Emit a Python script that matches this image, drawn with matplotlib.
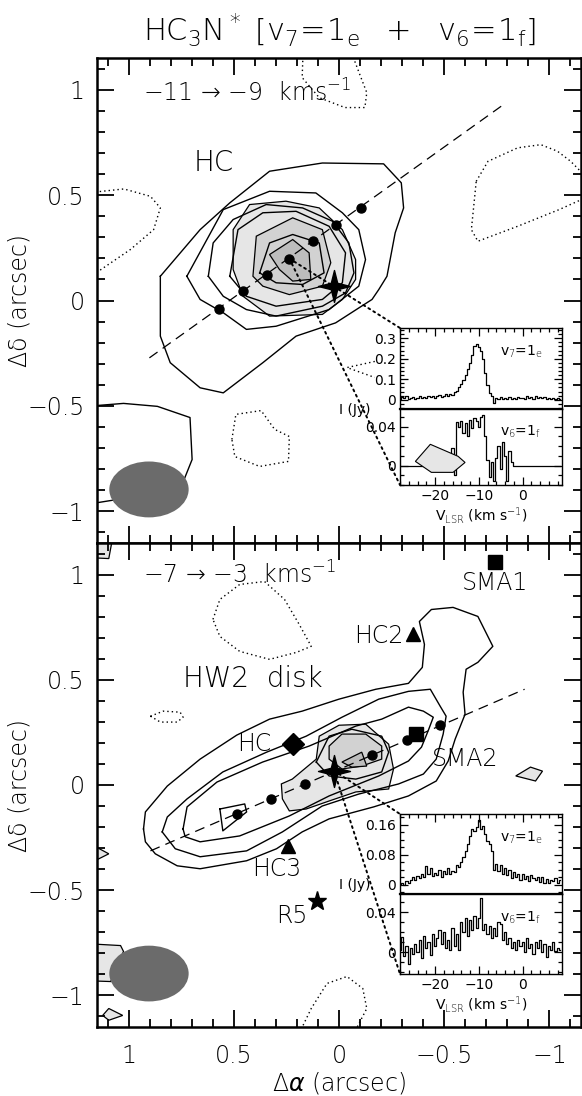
import numpy as np
import matplotlib
matplotlib.use('Agg')
import matplotlib.pyplot as plt
from matplotlib.patches import Ellipse, Polygon, ConnectionPatch
from matplotlib.path import Path
from matplotlib.ticker import MultipleLocator, FixedLocator

#
# map data (arcsec offsets)
#
# top panel  -11 -> -9 km/s
top_c1 = [(0.849, 0.115), (0.660, 0.336), (0.519, 0.463), (0.330, 0.613), (0.079, 0.652),
          (-0.212, 0.648), (-0.296, 0.558), (-0.307, 0.439), (-0.267, 0.321), (-0.228, 0.115),
          (-0.189, 0.052), (-0.157, 0.005), (0.016, -0.106), (0.204, -0.169), (0.362, -0.295),
          (0.550, -0.438), (0.660, -0.414), (0.802, -0.295), (0.849, -0.169)]
top_c2 = [(0.723, 0.115), (0.550, 0.431), (0.330, 0.518), (0.110, 0.510), (-0.016, 0.416),
          (-0.094, 0.336), (-0.126, 0.194), (-0.094, 0.068), (0.047, -0.043), (0.299, -0.122),
          (0.440, -0.137), (0.550, -0.058), (0.660, 0.005)]
top_c3 = [(0.621, 0.115), (0.598, 0.273), (0.503, 0.384), (0.346, 0.455), (0.173, 0.439),
          (0.031, 0.376), (-0.047, 0.273), (-0.071, 0.131), (-0.031, 0.036), (0.079, -0.027),
          (0.299, -0.074), (0.440, -0.043), (0.550, 0.020)]
top_c4 = [(0.519, 0.115), (0.480, 0.336), (0.362, 0.416), (0.204, 0.423), (0.047, 0.352),
          (-0.031, 0.226), (-0.016, 0.084), (0.079, 0.005), (0.299, -0.027), (0.440, 0.020)]
top_c5 = [(0.377, 0.131), (0.330, 0.273), (0.220, 0.313), (0.094, 0.273), (0.071, 0.131),
          (0.173, 0.076), (0.299, 0.084)]
top_f1 = [(0.503, 0.336), (0.425, 0.455), (0.252, 0.471), (0.094, 0.439), (-0.016, 0.336),
          (-0.079, 0.194), (-0.079, 0.100), (-0.016, 0.005), (0.079, -0.066), (0.330, -0.074),
          (0.456, 0.020), (0.503, 0.147)]
top_f2 = [(0.409, 0.115), (0.393, 0.305), (0.220, 0.392), (0.079, 0.336), (0.039, 0.179),
          (0.079, 0.068), (0.236, 0.028), (0.362, 0.068)]
top_f3 = [(0.330, 0.218), (0.220, 0.289), (0.142, 0.226), (0.134, 0.100), (0.220, 0.092),
          (0.283, 0.147)]
top_low = [(1.20, -0.502), (1.024, -0.488), (0.863, -0.502), (0.708, -0.555), (0.698, -0.754),
           (0.755, -0.896), (1.20, -0.967)]
top_neg = [
    [(1.20, 0.510), (1.022, 0.529), (0.896, 0.494), (0.849, 0.439), (0.881, 0.336),
     (0.991, 0.242), (1.20, 0.100)],
    [(-0.652, 0.565), (-0.708, 0.660), (-0.849, 0.724), (-0.959, 0.739), (-1.038, 0.708),
     (-1.101, 0.660), (-1.20, 0.560), (-1.20, 0.500), (-1.046, 0.431), (-0.849, 0.352),
     (-0.660, 0.281), (-0.629, 0.336), (-0.645, 0.494), (-0.652, 0.565)],
    [(0.170, 1.20), (0.175, 1.057), (0.094, 0.962), (-0.028, 0.915), (-0.123, 0.915),
     (-0.132, 0.986), (-0.099, 1.071), (-0.050, 1.20)],
    [(0.509, -0.659), (0.490, -0.540), (0.370, -0.522), (0.306, -0.611), (0.236, -0.645),
     (0.240, -0.763), (0.377, -0.787), (0.495, -0.740), (0.509, -0.659)],
    [(-0.170, -0.289), (-0.038, -0.318), (-0.170, -0.365)],
]
top_dots_x = [0.571, 0.458, 0.344, 0.236, 0.123, 0.014, -0.104]
top_dots_y = [-0.038, 0.043, 0.123, 0.199, 0.280, 0.360, 0.441]
top_axis_x = [0.901, -0.79]
top_axis_y = [-0.272, 0.935]
inset_patch_top = [(-0.363, -0.763), (-0.434, -0.682), (-0.566, -0.739), (-0.599, -0.768),
                   (-0.542, -0.815), (-0.439, -0.815)]

# bottom panel  -7 -> -3 km/s
bot_c1 = [(0.929, -0.209), (0.920, -0.128), (0.816, -0.005), (0.660, 0.123), (0.486, 0.237),
          (0.330, 0.313), (0.175, 0.351), (0.000, 0.408), (-0.175, 0.455), (-0.330, 0.483),
          (-0.396, 0.559), (-0.406, 0.668), (-0.382, 0.777), (-0.439, 0.834), (-0.542, 0.844),
          (-0.660, 0.801), (-0.731, 0.659), (-0.660, 0.583), (-0.604, 0.550), (-0.590, 0.441),
          (-0.599, 0.336), (-0.552, 0.218), (-0.519, 0.114), (-0.462, 0.019), (-0.330, -0.052),
          (-0.165, -0.104), (0.047, -0.161), (0.175, -0.223), (0.297, -0.303), (0.439, -0.360),
          (0.660, -0.398), (0.769, -0.384), (0.873, -0.327), (0.920, -0.270)]
bot_c2 = [(0.840, -0.223), (0.816, -0.152), (0.722, -0.066), (0.552, 0.062), (0.344, 0.156),
          (0.156, 0.232), (-0.014, 0.322), (-0.189, 0.408), (-0.330, 0.445), (-0.434, 0.455),
          (-0.481, 0.374), (-0.509, 0.327), (-0.495, 0.242), (-0.462, 0.123), (-0.401, 0.052),
          (-0.283, 0.005), (-0.094, -0.043), (0.080, -0.100), (0.269, -0.223), (0.439, -0.313),
          (0.660, -0.341), (0.778, -0.303)]
bot_c3 = [(0.741, -0.209), (0.722, -0.104), (0.580, 0.014), (0.363, 0.109), (0.142, 0.185),
          (-0.080, 0.280), (-0.203, 0.313), (-0.330, 0.370), (-0.401, 0.351), (-0.448, 0.322),
          (-0.425, 0.261), (-0.392, 0.180), (-0.330, 0.114), (-0.189, 0.043), (0.047, -0.052),
          (0.236, -0.147), (0.472, -0.242), (0.660, -0.270), (0.731, -0.246)]
bot_c4 = [(0.108, 0.109), (0.047, 0.232), (-0.061, 0.265), (-0.203, 0.232), (-0.236, 0.156),
          (-0.203, 0.062), (-0.080, 0.028), (0.047, 0.043)]
bot_c5 = [(0.566, -0.114), (0.448, -0.090), (0.439, -0.128), (0.552, -0.218)]
bot_f1 = [(0.274, 0.005), (0.222, 0.028), (0.108, 0.123), (0.094, 0.232), (0.000, 0.284),
          (-0.127, 0.289), (-0.236, 0.194), (-0.259, 0.076), (-0.236, -0.019), (-0.080, -0.033),
          (0.047, -0.076), (0.156, -0.114), (0.236, -0.123), (0.269, -0.066)]
bot_f2 = [(0.047, 0.185), (-0.014, 0.242), (-0.127, 0.242), (-0.203, 0.185), (-0.203, 0.123),
          (-0.108, 0.090), (-0.014, 0.076), (0.047, 0.123)]
bot_f3 = [(-0.014, 0.109), (-0.108, 0.156), (-0.132, 0.090), (-0.061, 0.085)]
bot_f_small = [
    [(-0.840, 0.043), (-0.910, 0.085), (-0.967, 0.066), (-0.934, 0.019)],
    [(1.20, -0.270), (1.094, -0.327), (1.20, -0.380)],
    [(1.20, -0.754), (1.038, -0.763), (1.024, -0.791), (1.085, -0.934), (1.20, -0.930)],
    [(1.123, -1.095), (1.094, -1.062), (1.028, -1.095), (1.094, -1.118)],
    [(1.20, 1.20), (1.071, 1.20), (1.094, 1.076), (1.20, 1.081)],
]
bot_neg = [
    [(0.599, 0.787), (0.566, 0.882), (0.472, 0.953), (0.354, 0.967), (0.259, 0.882),
     (0.189, 0.763), (0.132, 0.659), (0.203, 0.630), (0.330, 0.597), (0.472, 0.635),
     (0.566, 0.706), (0.599, 0.787)],
    [(0.896, 0.327), (0.835, 0.351), (0.755, 0.346), (0.741, 0.322), (0.769, 0.299),
     (0.849, 0.299), (0.896, 0.327)],
    [(0.189, -1.180), (0.132, -1.062), (0.057, -0.943), (-0.038, -0.910), (-0.113, -0.967),
     (-0.132, -1.062), (-0.071, -1.180)],
]
bot_dots_x = [0.487, 0.325, 0.162, -0.157, -0.322, -0.480]
bot_dots_y = [-0.137, -0.066, 0.005, 0.142, 0.215, 0.284]
bot_axis_x = [0.896, -0.882]
bot_axis_y = [-0.313, 0.455]

star_pos = (0.024, 0.068)
beam = (0.903, -0.896, 0.377, 0.265)   # x, y, major, minor

# sources in the bottom panel
sources = {
    'HC':   (0.217, 0.194, 'D'),
    'SMA2': (-0.368, 0.242, 's'),
    'HC2':  (-0.354, 0.716, '^'),
    'SMA1': (-0.741, 1.062, 's'),
    'HC3':  (0.241, -0.289, '^'),
    'R5':   (0.104, -0.550, '*'),
}

#
# spectra at the star position (Jy), channels of 0.5 km/s
#
vel = np.arange(-28.0, 8.75, 0.5)
top_v7 = [0.005, 0.012, 0.008, 0.016, 0.004, 0.010, 0.014, 0.006,
          0.011, 0.018, 0.007, 0.013, 0.009, 0.017, 0.012, 0.020,
          0.010, 0.016, 0.022, 0.014, 0.019, 0.026, 0.018, 0.030,
          0.024, 0.036, 0.045, 0.060, 0.075, 0.095, 0.120, 0.150,
          0.180, 0.220, 0.262, 0.270, 0.255, 0.240, 0.200, 0.130,
          0.070, 0.035, 0.018, -0.015, 0.010, 0.004, 0.012, 0.006,
          0.008, 0.002, 0.012, 0.005, 0.010, 0.003, 0.014, 0.007,
          0.011, 0.004, 0.016, 0.009, 0.013, 0.006, 0.018, 0.010,
          0.015, 0.008, 0.012, 0.004, 0.010, 0.002, 0.009, 0.005,
          0.011, 0.006]
top_v6 = [0, 0, 0, 0, 0, 0, 0, 0,
          0, 0, 0, 0, 0, 0, 0, 0,
          0, 0, 0, 0, 0, 0, 0.012, -0.006,
          0.018, -0.010, 0.045, 0.040, 0.046, 0.033, 0.044, 0.030,
          0.047, 0.038, 0.049, 0.046, 0.040, 0.050, 0.052, 0.030,
          0.006, -0.012, 0.004, -0.016, 0.008, 0.020, -0.004, 0.024,
          0.010, -0.016, 0.015, 0.004, 0, 0, 0, 0,
          0, 0, 0, 0, 0, 0, 0, 0,
          0, 0, 0, 0, 0, 0, 0, 0,
          0, 0]
bot_v7 = [0.002, 0.006, 0.000, 0.010, 0.004, 0.012, 0.020, 0.014,
          0.024, 0.018, 0.030, 0.022, 0.050, 0.028, 0.046, 0.024,
          0.032, 0.026, 0.040, 0.022, 0.036, 0.028, 0.044, 0.030,
          0.038, 0.034, 0.052, 0.048, 0.062, 0.075, 0.090, 0.110,
          0.130, 0.150, 0.145, 0.155, 0.172, 0.150, 0.158, 0.135,
          0.118, 0.108, 0.090, 0.040, 0.055, 0.038, 0.052, 0.030,
          0.045, 0.026, 0.040, 0.018, 0.034, 0.022, 0.028, 0.014,
          0.030, 0.016, 0.024, 0.010, 0.026, 0.018, 0.012, 0.022,
          0.008, 0.020, 0.006, 0.016, 0.004, 0.014, 0.010, 0.018,
          0.006, 0.012]
bot_v6 = [0.002, 0.015, -0.004, 0.006, -0.012, 0.004, -0.002, 0.008,
          0.000, 0.012, -0.006, 0.016, 0.004, 0.010, -0.003, 0.018,
          0.006, 0.014, 0.022, 0.008, 0.020, 0.004, 0.012, 0.002,
          0.024, 0.006, 0.018, 0.002, 0.030, 0.020, 0.034, 0.016,
          0.032, 0.022, 0.036, 0.024, 0.034, 0.054, 0.022, 0.028,
          0.018, 0.026, 0.014, 0.024, 0.016, 0.030, 0.028, 0.012,
          0.020, 0.008, 0.014, 0.004, 0.010, 0.002, 0.012, 0.006,
          0.010, 0.000, 0.014, 0.004, 0.008, -0.002, 0.010, 0.004,
          0.012, 0.000, 0.008, -0.005, 0.006, 0.002, 0.010, 0.001,
          0.004, 0.002]

LIGHT, MID, DARK = '#e6e6e6', '#d2d2d2', '#bdbdbd'
plt.rcParams['font.family'] = ['DejaVu Sans']
plt.rcParams['font.weight'] = 'light'
plt.rcParams['axes.labelweight'] = 'light'
plt.rcParams['mathtext.fontset'] = 'custom'
plt.rcParams['mathtext.rm'] = 'DejaVu Sans:light'
plt.rcParams['mathtext.it'] = 'DejaVu Sans:italic:light'
plt.rcParams['mathtext.sf'] = 'DejaVu Sans:light'

W, H = 582, 1096
fig = plt.figure(figsize=(W / 100, H / 100), dpi=100)


def fbox(x0, y0, x1, y1):
    # pixel box -> figure fraction
    return [x0 / W, 1 - y1 / H, (x1 - x0) / W, (y1 - y0) / H]


def closed(pts):
    xs = [p[0] for p in pts] + [pts[0][0]]
    ys = [p[1] for p in pts] + [pts[0][1]]
    return xs, ys


def line(ax, pts, close=True, **kw):
    if close:
        xs, ys = closed(pts)
    else:
        xs, ys = [p[0] for p in pts], [p[1] for p in pts]
    ax.plot(xs, ys, color='k', **kw)


def filled(ax, pts, color, z=1):
    ax.add_patch(Polygon(pts, closed=True, facecolor=color, edgecolor='k', lw=0.9, zorder=z))


def minus(v, p):
    return ('%g' % v).replace('-', '\u2212')


def setup_map(ax, xlabels):
    ax.set_xlim(1.15, -1.15)
    ax.set_ylim(-1.15, 1.15)
    ax.xaxis.set_major_locator(MultipleLocator(0.5))
    ax.xaxis.set_minor_locator(MultipleLocator(0.1))
    ax.yaxis.set_major_locator(MultipleLocator(0.5))
    ax.yaxis.set_minor_locator(MultipleLocator(0.1))
    ax.tick_params(which='both', direction='in', top=True, right=True, width=1.3)
    ax.tick_params(which='major', length=12, labelsize=17)
    ax.tick_params(which='minor', length=6)
    ax.tick_params(axis='y', pad=9)
    ax.tick_params(axis='x', pad=12)
    if not xlabels:
        ax.tick_params(axis='x', labelbottom=False)
    for s in ax.spines.values():
        s.set_linewidth(1.8)
    ax.set_ylabel('\u0394\u03b4 (arcsec)', fontsize=17)
    ax.yaxis.set_label_coords(-0.135, 0.5)
    ax.yaxis.set_major_formatter(plt.FuncFormatter(minus))
    ax.xaxis.set_major_formatter(plt.FuncFormatter(minus))


star_path = Path([(0, 1), (0.2, 0.2), (1, 0), (0.2, -0.2), (0, -1), (-0.2, -0.2),
                  (-1, 0), (-0.2, 0.2), (0, 1)], closed=True)

ax1 = fig.add_axes(fbox(97, 58, 581, 543))
ax2 = fig.add_axes(fbox(97, 543, 581, 1027))
setup_map(ax1, False)
setup_map(ax2, True)
ax2.set_xlabel(r'$\Delta\alpha$ (arcsec)', fontsize=17, labelpad=2)

dot_style = dict(linestyle=(0, (1, 2.2)), lw=1.0)

# ---- top panel
filled(ax1, top_f1, LIGHT)
filled(ax1, top_f2, MID)
filled(ax1, top_f3, DARK)
for c in (top_c1, top_c2, top_c3, top_c4, top_c5):
    line(ax1, c, lw=1.0, zorder=2)
line(ax1, top_low, close=False, lw=1.0, zorder=2)
for c in top_neg:
    line(ax1, c, close=False, zorder=2, **dot_style)
ax1.plot(top_axis_x, top_axis_y, color='k', lw=0.9, dashes=(8, 5), zorder=3)
ax1.plot(top_dots_x, top_dots_y, 'o', color='k', ms=6.5, zorder=4)
ax1.plot(*star_pos, marker=star_path, color='k', ms=23, zorder=5)
ax1.add_patch(Ellipse(beam[:2], beam[2], beam[3], facecolor='#6b6b6b', edgecolor='none', zorder=6))
ax1.text(0.93, 0.985, '\u221211 \u2192 \u22129  kms$^{-1}$', fontsize=17, va='center', ha='left')
ax1.text(0.693, 0.654, 'HC', fontsize=20, va='center', ha='left')

# ---- bottom panel
filled(ax2, bot_f1, LIGHT)
filled(ax2, bot_f2, MID)
filled(ax2, bot_f3, DARK)
for c in bot_f_small:
    filled(ax2, c, LIGHT)
for c in (bot_c1, bot_c2, bot_c3, bot_c4, bot_c5):
    line(ax2, c, lw=1.0, zorder=2)
for c in bot_neg:
    line(ax2, c, close=False, zorder=2, **dot_style)
ax2.plot(bot_axis_x, bot_axis_y, color='k', lw=0.9, dashes=(8, 5), zorder=3)
ax2.plot(bot_dots_x, bot_dots_y, 'o', color='k', ms=6.5, zorder=4)
ax2.plot(*star_pos, marker=star_path, color='k', ms=23, zorder=5)
ax2.add_patch(Ellipse(beam[:2], beam[2], beam[3], facecolor='#6b6b6b', edgecolor='none', zorder=6))
msize = {'D': 11, 's': 10, '^': 10, '*': 14}
for name, (sx, sy, mk) in sources.items():
    ax2.plot(sx, sy, marker=mk, color='k', ms=msize[mk], zorder=5, linestyle='none')
ax2.text(0.93, 1.0, '\u22127 \u2192 \u22123  kms$^{-1}$', fontsize=17, va='center', ha='left')
ax2.text(0.741, 0.502, 'HW2  disk', fontsize=20, va='center', ha='left')
ax2.text(0.321, 0.194, 'HC', fontsize=17, va='center', ha='right')
ax2.text(-0.439, 0.123, 'SMA2', fontsize=17, va='center', ha='left')
ax2.text(-0.307, 0.706, 'HC2', fontsize=17, va='center', ha='right')
ax2.text(-0.741, 0.962, 'SMA1', fontsize=17, va='center', ha='center')
ax2.text(0.297, -0.398, 'HC3', fontsize=17, va='center', ha='center')
ax2.text(0.222, -0.621, 'R5', fontsize=17, va='center', ha='center')

fig.text(0.5 * (97 + 581) / W, 1 - 30 / H,
         r'HC$_3$N$^*$ $\left[\mathrm{v}_7\!=\!1_\mathrm{e}\ \ +\ \ \mathrm{v}_6\!=\!1_\mathrm{f}\right]$',
         fontsize=22, ha='center', va='center')


# ---- spectra insets
def spec_axes(box, s, ylim, ymaj, ymin, tag, lower):
    a = fig.add_axes(fbox(*box))
    a.step(vel, s, where='mid', color='k', lw=0.9)
    a.set_xlim(-28, 9)
    a.set_ylim(*ylim)
    a.xaxis.set_major_locator(FixedLocator([-20, -10, 0]))
    a.xaxis.set_minor_locator(MultipleLocator(2))
    a.yaxis.set_major_locator(FixedLocator(ymaj))
    a.yaxis.set_minor_locator(MultipleLocator(ymin))
    a.tick_params(which='both', direction='in', left=True, right=True,
                  top=not lower, bottom=lower, labelsize=10, width=0.9, pad=3)
    a.tick_params(which='major', length=6)
    a.tick_params(which='minor', length=3)
    a.yaxis.set_major_formatter(plt.FuncFormatter(lambda x, p: '%g' % x))
    a.xaxis.set_major_formatter(plt.FuncFormatter(minus))
    for lab in a.get_xticklabels() + a.get_yticklabels():
        lab.set_fontweight('normal')
    if lower:
        a.set_xlabel(r'V$_\mathrm{LSR}$ (km s$^{-1}$)', fontsize=10, labelpad=1, fontweight='normal')
    else:
        a.tick_params(axis='x', labelbottom=False)
    for s_ in a.spines.values():
        s_.set_linewidth(1.0)
    a.text(0.62, 0.7, tag, transform=a.transAxes, fontsize=10, va='center', fontweight='normal')
    return a


i1a = spec_axes((400, 328, 562, 409), top_v7, (-0.045, 0.35), [0, 0.1, 0.2, 0.3], 0.02,
                r'v$_7$=1$_\mathrm{e}$', False)
i1b = spec_axes((400, 409, 562, 485), top_v6, (-0.020, 0.058), [0, 0.04], 0.01,
                r'v$_6$=1$_\mathrm{f}$', True)
i2a = spec_axes((400, 814, 562, 894), bot_v7, (-0.024, 0.189), [0, 0.08, 0.16], 0.02,
                r'v$_7$=1$_\mathrm{e}$', False)
i2b = spec_axes((400, 894, 562, 974), bot_v6, (-0.022, 0.058), [0, 0.04], 0.01,
                r'v$_6$=1$_\mathrm{f}$', True)
for a in (i1a, i2a):
    a.spines['bottom'].set_linewidth(1.6)

# contour piece of the map overlapping the top inset
i1b.add_patch(Polygon(inset_patch_top, closed=True, facecolor=LIGHT, edgecolor='k', lw=0.8,
                      transform=ax1.transData, clip_on=False, zorder=5))

fig.text(355 / W, 1 - 410 / H, 'I (Jy)', fontsize=10, ha='center', va='center', fontweight='normal')
fig.text(355 / W, 1 - 885 / H, 'I (Jy)', fontsize=10, ha='center', va='center', fontweight='normal')

# dotted links from the map to the spectra
for ax, origin, ia, ib in ((ax1, (top_dots_x[3], top_dots_y[3]), i1a, i1b),
                           (ax2, star_pos, i2a, i2b)):
    for ins, corner in ((ia, (0, 1)), (ib, (0, 0))):
        con = ConnectionPatch(xyA=origin, coordsA=ax.transData, xyB=corner, coordsB=ins.transAxes,
                              color='k', lw=1.4, linestyle=(0, (1, 2)))
        fig.add_artist(con)

fig.savefig('out.png', dpi=100)
